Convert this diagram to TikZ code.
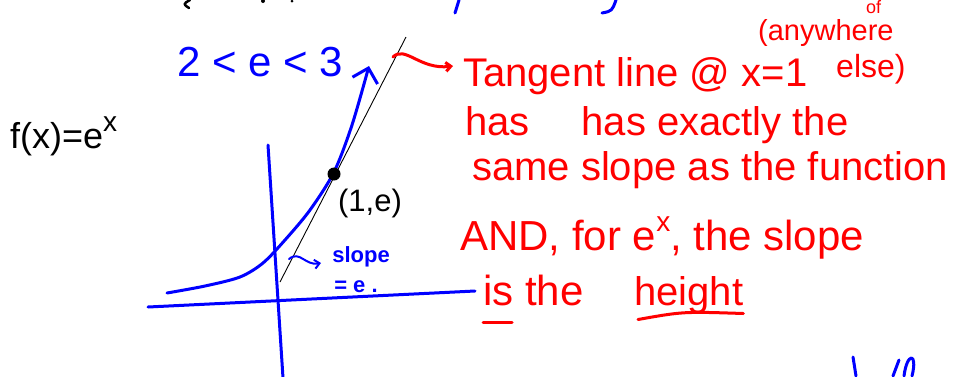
\documentclass[tikz,border=0pt]{standalone}
\usepackage{fontspec}
\setmainfont{Liberation Sans}
\usetikzlibrary{arrows.meta}
\definecolor{inkblue}{RGB}{0, 0, 255}
\definecolor{inkred}{RGB}{255, 0, 0}

\begin{document}
\begin{tikzpicture}[x=1pt, y=-1pt, >={Straight Barb[length=5pt, width=9pt]},
    ink/.style={line width=3pt, line cap=round, line join=round},
    redtxt/.style={inkred, anchor=base west, inner sep=0pt, font=\fontsize{40}{44}\selectfont},
    bluetxt/.style={inkblue, inner sep=0pt}]
    \useasboundingbox (0,0) rectangle (968,376);
    \clip (0,0) rectangle (968,376);
    % bits of writing cut off at the edges
    \draw[ink, line width=2.5pt] (190,0) .. controls (183,4) .. (189,8);
    \fill (263,1) circle (2pt) (292,1) circle (1.5pt);
    \draw[inkblue, ink] (459,0) -- (455,13);
    \draw[inkblue, ink] (616,0) .. controls (612,11) .. (602,13);
    \draw[inkblue, ink] (853,357) -- (856,376);
    \draw[inkblue, ink] (893,376) -- (899,360);
    \draw[inkblue, ink] (904,376) .. controls (907,352) and (918,352) .. (912,376);
    % axes
    \draw[inkblue, ink] (148,307) -- (475,291);
    \draw[inkblue, ink] (268,145) -- (283,378);
    % tangent line
    \coordinate (tanlow) at (280,282);
    \coordinate (tantop) at (406,37);
    \draw[line width=0.9pt] (tanlow) -- (tantop);
    % the curve e^x
    \draw[inkblue, ink, -{Straight Barb[length=13pt, width=26pt]}] plot[smooth] coordinates
      {(167,293) (205,286) (240,277) (263,263) (285,240) (310,210) (334,172) (352,125) (369,66)};
    \node[circle, fill, inner sep=0pt, minimum size=13pt] (pt) at (334,174) {};
    \node[inner sep=0pt, font=\fontsize{31}{33}\selectfont] (ptlbl) at (370,203) {(1,e)};
    \node[anchor=base west, inner sep=0pt, font=\fontsize{36}{38}\selectfont] (fx) at (10,148) {f(x)=e\raisebox{17pt}{\fontsize{28}{28}\selectfont x}};
    \node[bluetxt, anchor=base west, font=\fontsize{42}{44}\selectfont] (ebound) at (177,76) {2 < e < 3};
    % slope note
    \node[bluetxt, font=\fontsize{22}{24}\selectfont\bfseries] (slope) at (361,257) {slope};
    \node[bluetxt, font=\fontsize{22}{24}\selectfont\bfseries] (slopeval) at (356,287) {= e .};
    \coordinate (tanmid) at (289,259);
    \coordinate (slopetip) at (321,263);
    \draw[inkblue, line width=2pt, line cap=round, ->] (tanmid) .. controls (300,250) and (305,266) .. (slopetip);
    % red notes
    \node[redtxt, font=\fontsize{29}{32}\selectfont] (anyw) at (758,40) {(anywhere};
    \node[redtxt, font=\fontsize{18}{20}\selectfont] (of) at (866,13) {of};
    \node[redtxt] (tangent) at (463,86) {Tangent line @ x=1};
    \node[redtxt, font=\fontsize{32}{34}\selectfont] (els) at (836,77) {else)};
    \node[redtxt] (hasline) at (465,135) {has\hspace{52pt}has exactly the};
    \node[redtxt] (sameline) at (472,180) {same slope as the function};
    \node[redtxt, font=\fontsize{42}{44}\selectfont] (andline) at (460,250) {AND, for e\raisebox{19pt}{\fontsize{28}{28}\selectfont x}, the slope};
    \node[redtxt, font=\fontsize{42}{44}\selectfont] (isline) at (483,305) {is the};
    \node[redtxt, font=\fontsize{40}{44}\selectfont] (height) at (634,305) {height};
    \draw[inkred, ink] (483,322) -- (512,322);
    \draw[inkred, ink] (height.south west) ++(4,6) .. controls +(45,-8) .. (height.south east);
    \coordinate (tanfar) at (393,57);
    \coordinate (redtip) at (453,66);
    \draw[inkred, ink, ->] (tanfar) .. controls (405,45) and (420,70) .. (redtip);
\end{tikzpicture}
\end{document}
